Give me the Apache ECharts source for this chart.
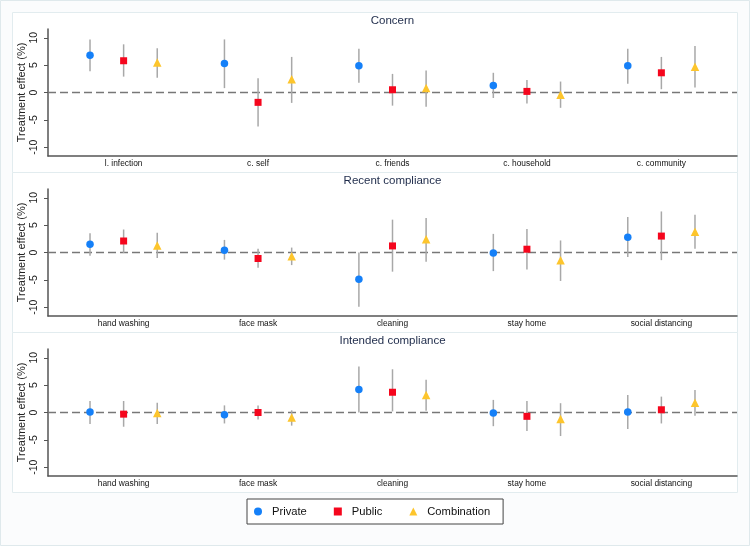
<!DOCTYPE html>
<html>
<head>
<meta charset="utf-8">
<script src="https://cdn.jsdelivr.net/npm/echarts@6/dist/echarts.min.js"></script>
<style>html,body{margin:0;padding:0;background:#fff}#c{width:750px;height:546px}</style>
</head>
<body>
<div id="c"></div>
<script>
// ---- data: [estimate, lower CI, upper CI] per category ----
const panelTitles = ['Concern', 'Recent compliance', 'Intended compliance'];
const concernCats = ['l. infection', 'c. self', 'c. friends', 'c. household', 'c. community'];
const complianceCats = ['hand washing', 'face mask', 'cleaning', 'stay home', 'social distancing'];
const seriesNames = ['Private', 'Public', 'Combination'];
const yTicks = [-10, -5, 0, 5, 10];

const concernPrivate     = [[6.8, 3.9, 9.7], [5.3, 0.8, 9.7], [4.9, 1.8, 8.0], [1.3, -1.0, 3.6], [4.9, 1.6, 8.0]];
const concernPublic      = [[5.8, 2.9, 8.8], [-1.8, -6.2, 2.6], [0.5, -2.4, 3.4], [0.2, -2.0, 2.3], [3.6, 0.6, 6.5]];
const concernCombination = [[5.5, 2.7, 8.1], [2.4, -1.9, 6.5], [0.8, -2.6, 4.0], [-0.4, -2.8, 2.0], [4.7, 0.9, 8.5]];

const recentPrivate      = [[1.5, -0.6, 3.5], [0.4, -1.3, 2.3], [-4.9, -9.9, 0.0], [-0.1, -3.4, 3.4], [2.8, -0.8, 6.5]];
const recentPublic       = [[2.1, -0.1, 4.2], [-1.1, -2.8, 0.7], [1.2, -3.5, 6.0], [0.6, -3.1, 4.3], [3.0, -1.4, 7.5]];
const recentCombination  = [[1.3, -1.0, 3.6], [-0.7, -2.3, 0.9], [2.4, -1.7, 6.3], [-1.4, -5.2, 2.2], [3.8, 0.7, 6.9]];

const intendedPrivate     = [[0.1, -2.1, 2.1], [-0.4, -2.0, 1.3], [4.2, 0.0, 8.4], [-0.1, -2.5, 2.3], [0.1, -3.0, 3.2]];
const intendedPublic      = [[-0.3, -2.6, 2.1], [0.0, -1.3, 1.3], [3.7, 0.2, 7.9], [-0.7, -3.4, 2.1], [0.5, -2.0, 2.9]];
const intendedCombination = [[-0.1, -2.1, 1.8], [-0.9, -2.4, 0.4], [3.2, 0.3, 6.0], [-1.2, -4.3, 1.7], [1.8, -0.6, 4.1]];

// ---- styles ----
const FONT = '"Liberation Sans", Arial, Helvetica, sans-serif';
const colors = ['#1580f8', '#f5061d', '#fdc52c'];
const symbols = ['circle', 'rect', 'triangle'];
const symbolSizes = [7.5, 7, 8.5];

const panels = [
  { cats: concernCats, groups: [concernPrivate, concernPublic, concernCombination] },
  { cats: complianceCats, groups: [recentPrivate, recentPublic, recentCombination] },
  { cats: complianceCats, groups: [intendedPrivate, intendedPublic, intendedCombination] }
];

const gridTops = [29, 189, 349];
const grids = [], xAxes = [], yAxes = [], series = [], graphics = [];

graphics.push({ type: 'rect', z: -20, silent: true, shape: { x: 0.5, y: 0.5, width: 749, height: 545 }, style: { fill: '#fbfcfd', stroke: '#dfe9ec', lineWidth: 1 } });

panels.forEach((p, pi) => {
  const top = gridTops[pi];
  graphics.push({ type: 'rect', z: -10, silent: true, shape: { x: 12.5, y: 12.5 + pi * 160, width: 725, height: 160 }, style: { fill: '#ffffff', stroke: '#e2ecef', lineWidth: 1 } });
  graphics.push({ type: 'text', silent: true, style: { x: 392.5, y: 20.5 + pi * 160, text: panelTitles[pi], textAlign: 'center', textVerticalAlign: 'middle', fill: '#1e2b4a', font: '11.5px ' + FONT } });

  grids.push({ left: 48, right: 13, top: top, height: 127 });
  const cats = p.cats;
  xAxes.push({
    gridIndex: pi, type: 'value', min: -0.25, max: 20.25,
    axisLine: { show: true, onZero: false, lineStyle: { color: '#555', width: 1.5 } },
    axisTick: { show: false },
    splitLine: { show: false },
    axisLabel: {
      customValues: cats.map((c, i) => 4 * i + 2),
      formatter: v => cats[Math.round((v - 2) / 4)] || '',
      fontSize: 8.4, fontFamily: FONT, color: '#111', margin: 4
    }
  });
  yAxes.push({
    gridIndex: pi, type: 'value', min: -11.6, max: 11.6,
    name: 'Treatment effect (%)', nameLocation: 'middle', nameGap: 21, nameMoveOverlap: false,
    nameTextStyle: { fontSize: 11, fontFamily: FONT, color: '#222' },
    axisLine: { show: true, onZero: false, lineStyle: { color: '#555', width: 1.5 } },
    axisTick: { show: true, length: 4, customValues: yTicks, lineStyle: { color: '#555', width: 1 } },
    splitLine: { show: false },
    axisLabel: { customValues: yTicks, rotate: 90, margin: 8, fontSize: 10.5, fontFamily: FONT, color: '#222' }
  });

  p.groups.forEach((g, si) => {
    const pts = g.map((d, ci) => [4 * ci + si + 1, d[0], d[1], d[2]]);
    series.push({
      type: 'custom', name: 'ci-' + pi + '-' + si, xAxisIndex: pi, yAxisIndex: pi, z: 2, silent: true,
      data: pts.map(d => [d[0], d[2], d[3]]),
      encode: { x: 0, y: [1, 2] },
      renderItem: (params, api) => {
        const a = api.coord([api.value(0), api.value(1)]);
        const b = api.coord([api.value(0), api.value(2)]);
        return { type: 'line', shape: { x1: a[0], y1: a[1], x2: b[0], y2: b[1] }, style: { stroke: '#a8a8a8', lineWidth: 1.5 } };
      }
    });
  });
  p.groups.forEach((g, si) => {
    const s = {
      type: 'scatter', name: seriesNames[si], xAxisIndex: pi, yAxisIndex: pi, z: 4,
      symbol: symbols[si], symbolSize: symbolSizes[si],
      itemStyle: { color: colors[si], opacity: 1 },
      data: g.map((d, ci) => [4 * ci + si + 1, d[0]])
    };
    if (si === 0) {
      s.markLine = {
        silent: true, symbol: 'none', z: 1, animation: false,
        label: { show: false },
        lineStyle: { type: [8, 4], color: '#777', width: 1.3 },
        data: [{ yAxis: 0 }]
      };
    }
    series.push(s);
  });
});

const chart = echarts.init(document.getElementById('c'), null, { renderer: 'canvas' });
chart.setOption({
  animation: false,
  backgroundColor: '#ffffff',
  grid: grids,
  xAxis: xAxes,
  yAxis: yAxes,
  legend: {
    data: seriesNames.map((n, i) => ({ name: n, icon: symbols[i] })),
    left: 247, top: 499,
    padding: [7, 13, 7, 7],
    borderColor: '#444', borderWidth: 1, borderRadius: 0,
    backgroundColor: '#fff',
    itemWidth: 8, itemHeight: 8, itemGap: 27,
    textStyle: { fontSize: 11.2, fontFamily: FONT, color: '#111', padding: [0, 0, 0, 5] }
  },
  graphic: graphics,
  series: series
});
</script>
</body>
</html>
